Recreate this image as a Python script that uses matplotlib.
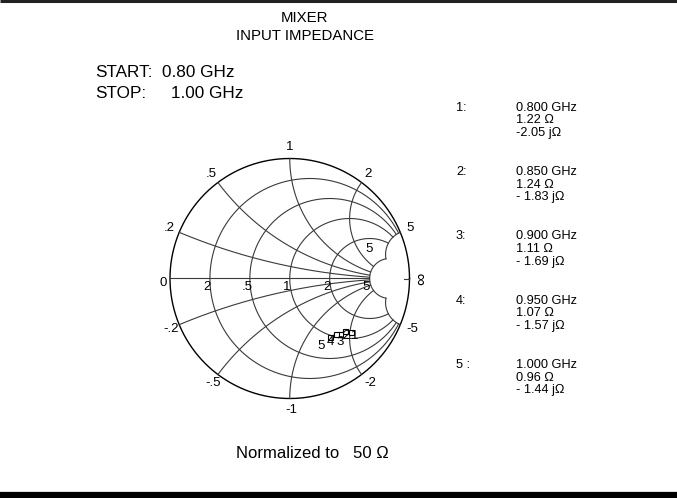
"""Mixer input impedance on a Smith chart."""
import numpy as np
import matplotlib

matplotlib.use("Agg")
import matplotlib.pyplot as plt
from matplotlib import font_manager

# grid values
r_circles = [0.2, 0.5, 1, 2, 5]
r_labels = ["2", ".5", "1", "2", "5"]
x_arcs = [0.2, 0.5, 1, 2, 5]
x_pos_labels = [".2", ".5", "1", "2", "5"]
x_neg_labels = ["-.2", "-.5", "-1", "-2", "-5"]

# marker data (normalized impedance)
marker_ids = ["1", "2", "3", "4", "5"]
marker_tags = ["1:", "2:", "3:", "4:", "5 :"]
freq_ghz = ["0.800 GHz", "0.850 GHz", "0.900 GHz", "0.950 GHz", "1.000 GHz"]
resist = [1.22, 1.24, 1.11, 1.07, 0.96]
react = [-2.05, -1.83, -1.69, -1.57, -1.44]
react_txt = ["-2.05 j\u03a9", "- 1.83 j\u03a9", "- 1.69 j\u03a9", "- 1.57 j\u03a9", "- 1.44 j\u03a9"]
# where each marker number sits relative to its marker (pixels)
id_offsets = [(3, -4), (1, -5), (0, -8), (-6, -8), (-9, -9)]

names = {f.name for f in font_manager.fontManager.ttflist}
narrow = "Liberation Sans Narrow" in names
plt.rcParams["font.family"] = ["Liberation Sans", "DejaVu Sans"]


def gamma(z):
    return (z - 1) / (z + 1)


W, H = 677, 498
fig = plt.figure(figsize=(W / 100, H / 100), dpi=100)

# background axes in pixel coords for the free text
bg = fig.add_axes([0, 0, 1, 1])
bg.set_xlim(0, W)
bg.set_ylim(H, 0)
bg.axis("off")
bg.plot([0, W], [1, 1], color="#222222", lw=2.2, solid_capstyle="butt")
bg.plot([0, W], [495, 495], color="black", lw=4.5, solid_capstyle="butt")

tfam = ["Liberation Sans Narrow", "Liberation Sans"] if narrow else ["Liberation Sans"]
tsize = 13 if narrow else 10.8
bg.text(305, 18, "MIXER", ha="center", va="center", fontsize=tsize, family=tfam)
bg.text(305, 36, "INPUT IMPEDANCE", ha="center", va="center", fontsize=tsize, family=tfam)
bg.text(95, 72, "START:", ha="left", va="center", fontsize=12.3)
bg.text(162, 72, "0.80 GHz", ha="left", va="center", fontsize=12.3)
bg.text(95, 93, "STOP:", ha="left", va="center", fontsize=12.3)
bg.text(171, 93, "1.00 GHz", ha="left", va="center", fontsize=12.3)
bg.text(312, 453, "Normalized to   50 \u03a9", ha="center", va="center", fontsize=12)

for i, tag in enumerate(marker_tags):
    y0 = 107.7 + 64.3 * i
    bg.text(456, y0, tag, ha="left", va="center", fontsize=9.2)
    bg.text(516, y0, freq_ghz[i], ha="left", va="center", fontsize=9.2)
    bg.text(516, y0 + 12.7, f"{resist[i]:.2f} \u03a9", ha="left", va="center", fontsize=9.2)
    bg.text(516, y0 + 25.4, react_txt[i], ha="left", va="center", fontsize=9.2)

# Smith chart axes
cx0, cx1, cy0, cy1 = 170, 409.5, 158.5, 398.5
ax = fig.add_axes([cx0 / W, (H - cy1) / H, (cx1 - cx0) / W, (cy1 - cy0) / H])
ax.set_xlim(-1, 1)
ax.set_ylim(-1, 1)
ax.axis("off")

grid_kw = dict(color="#3a3a3a", lw=0.8, clip_on=False)
t = np.linspace(0, 2 * np.pi, 720)
ax.plot(np.cos(t), np.sin(t), color="black", lw=1.0, clip_on=False)

xs = np.linspace(-5, 5, 3000)
for r in r_circles:
    g = gamma(r + 1j * xs)
    ax.plot(g.real, g.imag, **grid_kw)
rs = np.linspace(0, 5, 3000)
for x in x_arcs:
    for s in (1, -1):
        g = gamma(rs + 1j * s * x)
        ax.plot(g.real, g.imag, **grid_kw)
g = gamma(rs + 0j)
ax.plot(g.real, g.imag, **grid_kw)
g = gamma(np.array([40.0, 1e6]))
ax.plot(g.real, g.imag, **grid_kw)

lab = dict(fontsize=9.5, ha="center", va="center", textcoords="offset pixels")
for r, s in zip(r_circles, r_labels):
    g = gamma(r)
    ax.annotate(s, (g, 0), xytext=(-3, -8), **lab)
ax.annotate("0", (-1, 0), xytext=(-7, -4), **lab)
for x, sp, sn in zip(x_arcs, x_pos_labels, x_neg_labels):
    g = gamma(1j * x)
    ax.annotate(sp, (g.real, g.imag), xytext=(11 * g.real, 11 * g.imag), **lab)
    g = gamma(-1j * x)
    ax.annotate(sn, (g.real, g.imag), xytext=(11 * g.real + 2, 11 * g.imag), **lab)
# stray "5" just under the top of the r = 2 circle
ax.annotate("5", (2 / 3, 1 / 3), xytext=(0, -4), fontsize=9.5,
            ha="center", va="top", textcoords="offset pixels")
ax.annotate("\u221e", (1, 0), xytext=(12, 0), rotation=90, **dict(lab, fontsize=12.5))

# trace
z = np.array(resist) + 1j * np.array(react)
g = gamma(z)
ax.plot(g.real, g.imag, color="black", lw=0.9, marker="s", ms=3.6, mfc="white",
        mec="black", mew=0.8)
for gi, mid, off in zip(g, marker_ids, id_offsets):
    ax.annotate(mid, (gi.real, gi.imag), xytext=off, fontsize=9.5,
                ha="center", va="center", textcoords="offset pixels")

fig.savefig("out.png", dpi=100)
